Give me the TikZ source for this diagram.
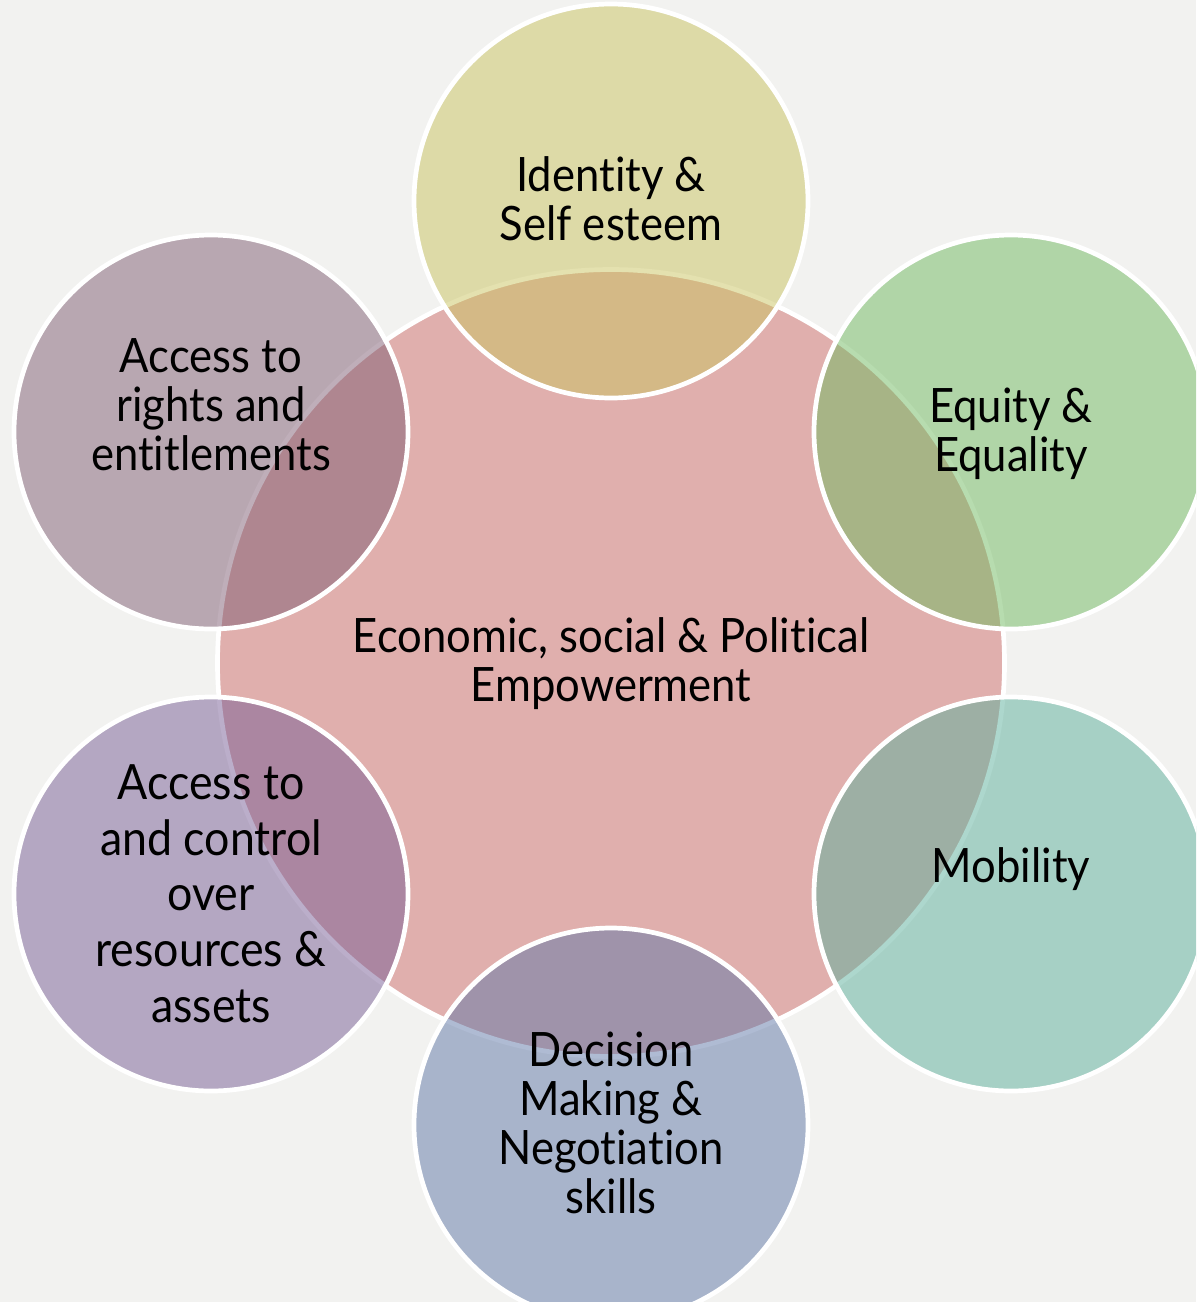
\documentclass[tikz,border=0pt]{standalone}
\usepackage{fontspec}
\setmainfont{Lato}[FakeStretch=0.92, Ligatures=NoCommon]
\definecolor{bgcol}{RGB}{242,242,240}
\definecolor{corecol}{RGB}{224,175,173}
\definecolor{idcol}{RGB}{202,196,96}
\definecolor{eqcol}{RGB}{112,186,96}
\definecolor{mobcol}{RGB}{92,176,156}
\definecolor{deccol}{RGB}{96,120,168}
\definecolor{rescol}{RGB}{120,94,150}
\definecolor{rightscol}{RGB}{128,94,116}
\begin{document}
\begin{tikzpicture}[x=0.5pt, y=-0.5pt,
  corebox/.style={circle, draw=white, line width=2.35pt, minimum size=393.5pt, inner sep=0pt, fill=corecol},
  bubble/.style={circle, draw=white, line width=2.35pt, minimum size=197pt, inner sep=0pt, fill opacity=0.5},
  lbl/.style={align=center, anchor=base, inner sep=0pt, font=\fontsize{23.7}{24.5}\selectfont}]
\fill[bgcol] (0,0) rectangle (1196,1302);
\clip (0,0) rectangle (1196,1302);
\node[corebox] (core) at (611,663){};
\node[bubble, fill=idcol] (identity) at (611,201){};
\node[bubble, fill=eqcol] (equity) at (1011,432){};
\node[bubble, fill=mobcol] (mobility) at (1011,894){};
\node[bubble, fill=deccol] (decision) at (611,1125){};
\node[bubble, fill=rescol] (resources) at (211,894){};
\node[bubble, fill=rightscol] (rights) at (211,432){};
% base anchor sits on the last line
\node[lbl] (coretxt) at (611,701) {Economic, social \& Political\\Empowerment};
\node[lbl] (identitytxt) at (611,240) {Identity \&\\Self esteem};
\node[lbl] (equitytxt) at (1011,471) {Equity \&\\Equality};
\node[lbl] (mobilitytxt) at (1011,882) {Mobility};
\node[lbl] (decisiontxt) at (611,1213) {Decision\\Making \&\\Negotiation\\skills};
\node[lbl, font=\fontsize{24.3}{27.8}\selectfont] (resourcestxt) at (211,1022) {Access to\\and control\\over\\resources \&\\assets};
\node[lbl] (rightstxt) at (211,470) {Access to\\rights and\\entitlements};
\end{tikzpicture}
\end{document}
